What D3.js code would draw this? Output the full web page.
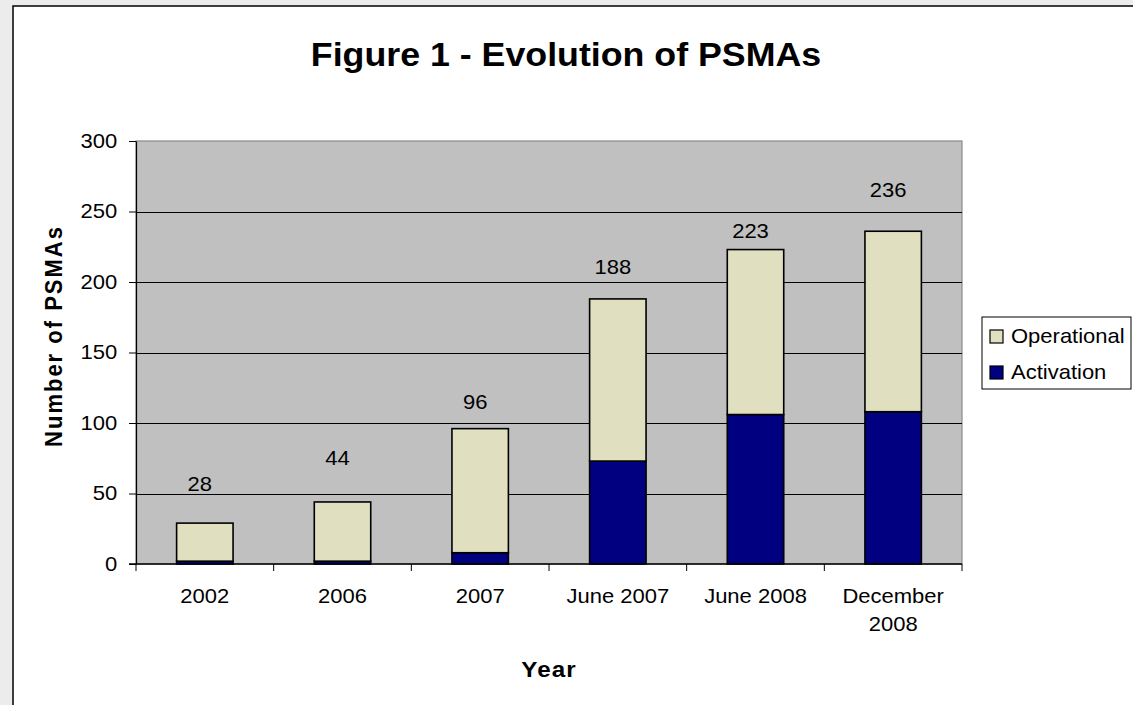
<!DOCTYPE html>
<html>
<head>
<meta charset="utf-8">
<script src="https://cdn.jsdelivr.net/npm/d3@7"></script>
<style>
  html, body { margin: 0; padding: 0; background: #ececec; }
  svg { display: block; font-family: "Liberation Sans", Arial, sans-serif; }
</style>
</head>
<body>
<svg id="chart" width="1133" height="705"></svg>
<script>
// data
const categories = ["2002", "2006", "2007", "June 2007", "June 2008", "December 2008"];
const activation = [2, 2, 8, 73, 106, 108];
const operational = [27, 42, 88, 115, 117, 128];
const totalLabels = [28, 44, 96, 188, 223, 236];
// where each total label sits, in axis units (they were placed by hand)
const labelLevels = [52, 70, 110, 206, 231, 260];
const yTicks = [0, 50, 100, 150, 200, 250, 300];
const seriesNames = ["Operational", "Activation"];
const seriesColors = {Operational: "#e0e0c0", Activation: "#000080"};

const stretch = 1.1; // the text in the original is a bit wide

const svg = d3.select("#chart");

// chart frame
svg.append("rect")
    .attr("x", 13)
    .attr("y", 6)
    .attr("width", 1140)
    .attr("height", 720)
    .attr("fill", "#fff")
    .attr("stroke", "#000")
    .attr("stroke-width", 1.5);

const plot = {left: 136, right: 962, top: 141, bottom: 564};

const x = d3.scaleBand()
    .domain(categories)
    .range([plot.left, plot.right])
    .paddingInner(0.59)
    .paddingOuter(0.295);

const y = d3.scaleLinear()
    .domain([0, 300])
    .range([plot.bottom, plot.top]);

// title
svg.append("text")
    .attr("transform", `translate(566, 66) scale(${stretch},1)`)
    .attr("text-anchor", "middle")
    .attr("font-size", 32.5)
    .attr("font-weight", "bold")
    .text("Figure 1 - Evolution of PSMAs");

// plot background
svg.append("rect")
    .attr("x", plot.left)
    .attr("y", plot.top)
    .attr("width", plot.right - plot.left)
    .attr("height", plot.bottom - plot.top)
    .attr("fill", "#c0c0c0")
    .attr("stroke", "#8a8a8a")
    .attr("stroke-width", 1.2);

// gridlines
svg.append("g")
    .attr("stroke", "#000")
    .attr("stroke-width", 1)
  .selectAll("line")
  .data(yTicks.filter(d => d > 0 && d < 300))
  .join("line")
    .attr("x1", plot.left)
    .attr("x2", plot.right)
    .attr("y1", d => Math.round(y(d)) + 0.5)
    .attr("y2", d => Math.round(y(d)) + 0.5);

// stacked bars
const rows = categories.map((c, i) => ({cat: c, Activation: activation[i], Operational: operational[i]}));
const stacked = d3.stack().keys(["Activation", "Operational"])(rows);

svg.append("g")
  .selectAll("g")
  .data(stacked)
  .join("g")
    .attr("fill", d => seriesColors[d.key])
    .attr("stroke", "#000")
    .attr("stroke-width", 1.6)
  .selectAll("rect")
  .data(d => d)
  .join("rect")
    .attr("x", d => x(d.data.cat))
    .attr("y", d => y(d[1]))
    .attr("width", x.bandwidth())
    .attr("height", d => y(d[0]) - y(d[1]));

// y axis
const yAxis = svg.append("g")
    .attr("transform", `translate(${plot.left},0)`)
    .call(d3.axisLeft(y).tickValues(yTicks).tickSize(7).tickPadding(10).tickSizeOuter(0));
yAxis.select(".domain").attr("stroke", "#000").attr("stroke-width", 1.2);
yAxis.selectAll(".tick line").attr("stroke", "#000");
yAxis.selectAll(".tick text")
    .attr("font-size", 20)
    .attr("fill", "#000")
    .attr("transform", `scale(${stretch},1)`);

// x axis: baseline, ticks between categories
svg.append("line")
    .attr("x1", plot.left - 7)
    .attr("x2", plot.right)
    .attr("y1", plot.bottom)
    .attr("y2", plot.bottom)
    .attr("stroke", "#000")
    .attr("stroke-width", 1.5);

const step = x.step();
svg.append("g")
    .attr("stroke", "#000")
  .selectAll("line")
  .data(d3.range(categories.length + 1))
  .join("line")
    .attr("x1", i => plot.left + i * step)
    .attr("x2", i => plot.left + i * step)
    .attr("y1", plot.bottom)
    .attr("y2", plot.bottom + 7);

const xLabels = svg.append("g")
    .attr("font-size", 20)
    .attr("text-anchor", "middle")
  .selectAll("text")
  .data(categories)
  .join("text")
    .attr("transform", d => `translate(${x(d) + x.bandwidth() / 2}, 603) scale(${stretch},1)`);

xLabels.each(function(d) {
  const t = d3.select(this);
  t.text(d);
  if (this.getComputedTextLength() * stretch > step - 10) {
    const words = d.split(" ");
    t.text(null);
    t.append("tspan").attr("x", 0).attr("dy", 0).text(words.slice(0, -1).join(" "));
    t.append("tspan").attr("x", 0).attr("dy", 28).text(words[words.length - 1]);
  }
});

// total labels
svg.append("g")
    .attr("font-size", 20)
    .attr("text-anchor", "middle")
  .selectAll("text")
  .data(totalLabels)
  .join("text")
    .attr("transform", (d, i) => `translate(${x(categories[i]) + x.bandwidth() / 2 - 5}, ${y(labelLevels[i])}) scale(${stretch},1)`)
    .text(d => d);

// axis titles
svg.append("text")
    .attr("transform", `translate(${(plot.left + plot.right) / 2}, 677) scale(${stretch},1)`)
    .attr("text-anchor", "middle")
    .attr("font-size", 22)
    .attr("font-weight", "bold")
    .attr("letter-spacing", 1)
    .text("Year");

svg.append("text")
    .attr("transform", `translate(62, 336) rotate(-90) scale(1,${stretch})`)
    .attr("text-anchor", "middle")
    .attr("font-size", 22)
    .attr("font-weight", "bold")
    .attr("letter-spacing", 2)
    .text("Number of PSMAs");

// legend
const legend = svg.append("g").attr("transform", "translate(982, 317)");
legend.append("rect")
    .attr("width", 149)
    .attr("height", 72)
    .attr("fill", "#fff")
    .attr("stroke", "#000")
    .attr("stroke-width", 1);

const items = legend.selectAll(".legend-item")
  .data(seriesNames)
  .join("g")
    .attr("class", "legend-item")
    .attr("transform", (d, i) => `translate(8, ${13 + i * 36})`);

items.append("rect")
    .attr("width", 13)
    .attr("height", 13)
    .attr("fill", d => seriesColors[d])
    .attr("stroke", "#000")
    .attr("stroke-width", 1.2);

items.append("text")
    .attr("transform", `translate(21, 13) scale(${stretch},1)`)
    .attr("font-size", 20)
    .text(d => d);
</script>
</body>
</html>
